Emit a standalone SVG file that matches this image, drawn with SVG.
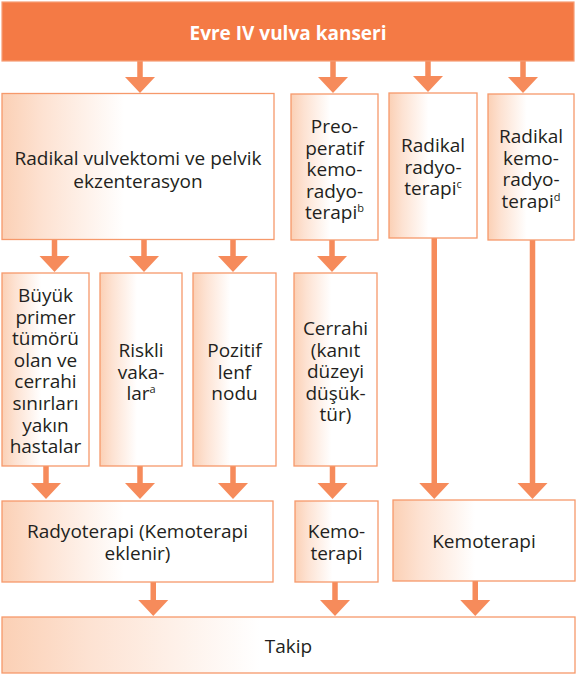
<svg xmlns="http://www.w3.org/2000/svg" width="576" height="677" viewBox="0 0 576 677">
  <defs>
    <linearGradient id="boxFill" x1="0" y1="0" x2="1" y2="0">
      <stop offset="0" stop-color="#FBD0B5"/>
      <stop offset="0.15" stop-color="#FDE2D2"/>
      <stop offset="0.45" stop-color="#FFFFFF"/>
      <stop offset="1" stop-color="#FFFFFF"/>
    </linearGradient>
    <!-- downward arrow: 5.5px shaft, 30x16 head, tip at origin -->
    <path id="head" d="M-15,-16 L15,-16 L0,0 Z"/>
  </defs>
  <style>
    .box { fill: url(#boxFill); stroke: #F6996B; stroke-width: 1.3; }
    .hdr { fill: #F47A45; stroke: #F69C74; stroke-width: 1.2; }
    .t { font-family: "Open Sans", "Noto Sans", sans-serif; font-size: 19px; fill: #231F20; text-anchor: middle; }
    .th { font-family: "Open Sans", "Noto Sans", sans-serif; font-size: 19px; font-weight: bold; fill: #FFFFFF; text-anchor: middle; }
    .sup { font-size: 11px; }
    .shaft { fill: #F68B5B; }
    .arrow use { fill: #F68B5B; }
  </style>

  <!-- connectors -->
  <g id="connectors" class="arrow">
    <!-- header to first row -->
    <rect class="shaft" x="137.25" y="61" width="5.5" height="17"/><use href="#head" x="140" y="93"/>
    <rect class="shaft" x="330.25" y="61" width="5.5" height="17"/><use href="#head" x="333" y="93"/>
    <rect class="shaft" x="425.25" y="61" width="5.5" height="16"/><use href="#head" x="428" y="92"/>
    <rect class="shaft" x="520.25" y="61" width="5.5" height="17"/><use href="#head" x="523" y="93"/>
    <!-- vulvectomy to second row -->
    <rect class="shaft" x="51.75" y="240" width="5.5" height="17"/><use href="#head" x="54.5" y="272"/>
    <rect class="shaft" x="141.25" y="240" width="5.5" height="17"/><use href="#head" x="144" y="272"/>
    <rect class="shaft" x="230.25" y="240" width="5.5" height="17"/><use href="#head" x="233" y="272"/>
    <!-- preoperative to surgery -->
    <rect class="shaft" x="329.25" y="240" width="5.5" height="17"/><use href="#head" x="332" y="272"/>
    <!-- second row to third row -->
    <rect class="shaft" x="43.25" y="466" width="5.5" height="18"/><use href="#head" x="46" y="499"/>
    <rect class="shaft" x="137.25" y="466" width="5.5" height="18"/><use href="#head" x="140" y="499"/>
    <rect class="shaft" x="230.25" y="466" width="5.5" height="18"/><use href="#head" x="233" y="499"/>
    <rect class="shaft" x="329.75" y="466" width="5.5" height="18"/><use href="#head" x="332.5" y="499"/>
    <!-- long runs from radical boxes -->
    <rect class="shaft" x="431.5" y="238" width="5.5" height="246"/><use href="#head" x="434.25" y="499"/>
    <rect class="shaft" x="529.75" y="240" width="5.5" height="244"/><use href="#head" x="532.5" y="499"/>
    <!-- third row to follow-up -->
    <rect class="shaft" x="150.5" y="582" width="5.5" height="19"/><use href="#head" x="153.25" y="616"/>
    <rect class="shaft" x="332.25" y="582" width="5.5" height="19"/><use href="#head" x="335" y="616"/>
    <rect class="shaft" x="472.5" y="581" width="5.5" height="20"/><use href="#head" x="475.25" y="616"/>
  </g>

  <g id="n-header">
    <rect class="hdr" x="2" y="2" width="572" height="59"/>
    <text class="th" x="288" y="40">Evre IV vulva kanseri</text>
  </g>

  <g id="n-vulvektomi">
    <rect class="box" x="2" y="93.5" width="272" height="146"/>
    <text class="t" x="138" y="165">Radikal vulvektomi ve pelvik</text>
    <text class="t" x="138" y="188">ekzenterasyon</text>
  </g>

  <g id="n-preop">
    <rect class="box" x="291" y="94" width="87" height="146"/>
    <text class="t" x="334.5" y="133">Preo-</text>
    <text class="t" x="334.5" y="154.5">peratif</text>
    <text class="t" x="334.5" y="176">kemo-</text>
    <text class="t" x="334.5" y="197.5">radyo-</text>
    <text class="t" x="334.5" y="219">terapi<tspan class="sup" dy="-7">b</tspan></text>
  </g>

  <g id="n-radikal-rt">
    <rect class="box" x="389" y="93" width="88" height="145"/>
    <text class="t" x="433" y="152">Radikal</text>
    <text class="t" x="433" y="173.5">radyo-</text>
    <text class="t" x="433" y="195">terapi<tspan class="sup" dy="-7">c</tspan></text>
  </g>

  <g id="n-radikal-krt">
    <rect class="box" x="488" y="94" width="86" height="146"/>
    <text class="t" x="531" y="143">Radikal</text>
    <text class="t" x="531" y="164.5">kemo-</text>
    <text class="t" x="531" y="186">radyo-</text>
    <text class="t" x="531" y="207.5">terapi<tspan class="sup" dy="-7">d</tspan></text>
  </g>

  <g id="n-buyuk">
    <rect class="box" x="2" y="273" width="87" height="193"/>
    <text class="t" x="45.5" y="302">Büyük</text>
    <text class="t" x="45.5" y="323.6">primer</text>
    <text class="t" x="45.5" y="345.2">tümörü</text>
    <text class="t" x="45.5" y="366.8">olan ve</text>
    <text class="t" x="45.5" y="388.4">cerrahi</text>
    <text class="t" x="45.5" y="410">sınırları</text>
    <text class="t" x="45.5" y="431.6">yakın</text>
    <text class="t" x="45.5" y="453">hastalar</text>
  </g>

  <g id="n-riskli">
    <rect class="box" x="100" y="273" width="82" height="193"/>
    <text class="t" x="141" y="357">Riskli</text>
    <text class="t" x="141" y="378.5">vaka-</text>
    <text class="t" x="141" y="400">lar<tspan class="sup" dy="-7">a</tspan></text>
  </g>

  <g id="n-pozitif">
    <rect class="box" x="193" y="273" width="83" height="193"/>
    <text class="t" x="234.5" y="357">Pozitif</text>
    <text class="t" x="234.5" y="378.5">lenf</text>
    <text class="t" x="234.5" y="400">nodu</text>
  </g>

  <g id="n-cerrahi">
    <rect class="box" x="294" y="273" width="83" height="193"/>
    <text class="t" x="335.5" y="335">Cerrahi</text>
    <text class="t" x="335.5" y="356.5">(kanıt</text>
    <text class="t" x="335.5" y="378">düzeyi</text>
    <text class="t" x="335.5" y="399.5">düşük-</text>
    <text class="t" x="335.5" y="421">tür)</text>
  </g>

  <g id="n-radyoterapi">
    <rect class="box" x="2" y="501" width="271" height="81"/>
    <text class="t" x="137.5" y="538">Radyoterapi (Kemoterapi</text>
    <text class="t" x="137.5" y="560">eklenir)</text>
  </g>

  <g id="n-kemo">
    <rect class="box" x="295" y="501" width="83" height="81"/>
    <text class="t" x="336.5" y="538">Kemo-</text>
    <text class="t" x="336.5" y="559.5">terapi</text>
  </g>

  <g id="n-kemoterapi">
    <rect class="box" x="393" y="500" width="182" height="81"/>
    <text class="t" x="484" y="548">Kemoterapi</text>
  </g>

  <g id="n-takip">
    <rect class="box" x="2" y="617" width="573" height="56"/>
    <text class="t" x="288.5" y="653">Takip</text>
  </g>
</svg>
